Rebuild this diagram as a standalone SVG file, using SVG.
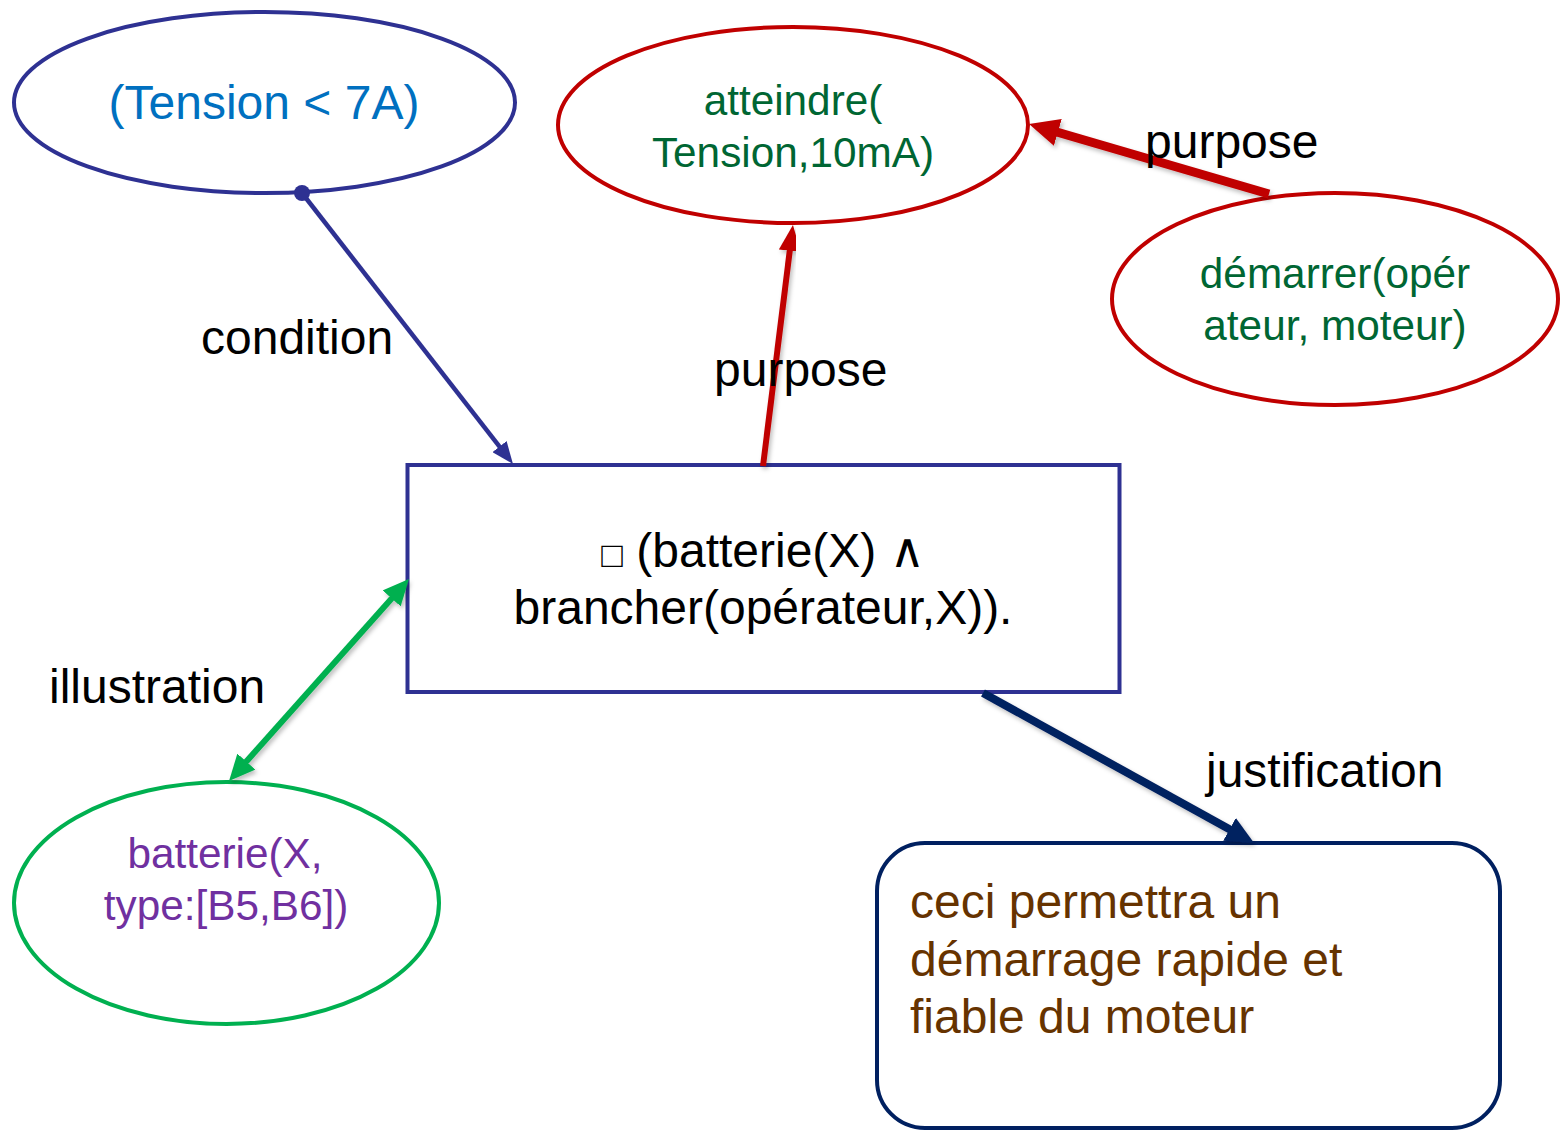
<svg xmlns="http://www.w3.org/2000/svg" width="1560" height="1131" viewBox="0 0 1560 1131">
<style>
  text { font-family: "Liberation Sans", Arial, "DejaVu Sans", sans-serif; }
  .lbl { font-size: 48px; fill: #000000; }
  .big { font-size: 48px; }
  .small { font-size: 42.3px; text-anchor: middle; }
  .node { fill: #ffffff; stroke-width: 4; }
</style>
<defs>
  <filter id="sh" x="-20%" y="-20%" width="140%" height="140%">
    <feDropShadow dx="2" dy="3" stdDeviation="2" flood-color="#000000" flood-opacity="0.25"/>
  </filter>
  <marker id="m-cond" markerUnits="userSpaceOnUse" markerWidth="22" markerHeight="18" refX="2" refY="9" orient="auto">
    <path d="M0,0 L22,9 L0,18 Z" fill="#2E3192"/>
  </marker>
  <marker id="m-red" markerUnits="userSpaceOnUse" markerWidth="26" markerHeight="22" refX="2" refY="11" orient="auto">
    <path d="M0,0 L26,11 L0,22 Z" fill="#C00000"/>
  </marker>
  <marker id="m-red-big" markerUnits="userSpaceOnUse" markerWidth="30" markerHeight="28" refX="2" refY="14" orient="auto">
    <path d="M0,0 L30,14 L0,28 Z" fill="#C00000"/>
  </marker>
  <marker id="m-green" markerUnits="userSpaceOnUse" markerWidth="26" markerHeight="24" refX="2" refY="12" orient="auto-start-reverse">
    <path d="M0,0 L26,12 L0,24 Z" fill="#00B050"/>
  </marker>
  <marker id="m-navy" markerUnits="userSpaceOnUse" markerWidth="28" markerHeight="26" refX="2" refY="13" orient="auto">
    <path d="M0,0 L28,13 L0,26 Z" fill="#002060"/>
  </marker>
</defs>
<rect width="1560" height="1131" fill="#ffffff"/>

<g id="n-tension">
  <ellipse class="node" cx="264.5" cy="102.5" rx="250.5" ry="90.5" stroke="#2E3192"/>
  <text class="big" x="264" y="119" text-anchor="middle" fill="#0070C0">(Tension &lt; 7A)</text>
</g>

<g id="n-atteindre">
  <ellipse class="node" cx="793" cy="125" rx="235" ry="98" stroke="#C00000"/>
  <text class="small" x="793" y="115" fill="#006633">atteindre(</text>
  <text class="small" x="793" y="167" fill="#006633">Tension,10mA)</text>
</g>

<g id="n-demarrer">
  <ellipse class="node" cx="1335" cy="299" rx="223" ry="106" stroke="#C00000"/>
  <text class="small" x="1335" y="288" fill="#006633">démarrer(opér</text>
  <text class="small" x="1335" y="340" fill="#006633">ateur, moteur)</text>
</g>

<g id="n-main">
  <rect class="node" x="407.5" y="465" width="712" height="227" stroke="#2E3192"/>
  <text class="big" x="763" y="567" text-anchor="middle" fill="#000000"><tspan font-size="36">□</tspan> (batterie(X) ∧</text>
  <text class="big" x="763" y="624" text-anchor="middle" fill="#000000">brancher(opérateur,X)).</text>
</g>

<g id="n-batterie">
  <ellipse class="node" cx="226.5" cy="903" rx="212.5" ry="121" stroke="#00B050"/>
  <text class="small" x="225" y="868" fill="#7030A0">batterie(X,</text>
  <text class="small" x="226" y="920" fill="#7030A0">type:[B5,B6])</text>
</g>

<g id="n-justif">
  <rect class="node" x="877" y="843" width="623" height="285" rx="48" ry="48" stroke="#002060"/>
  <text class="big" x="910" y="918" fill="#663300">ceci permettra un</text>
  <text class="big" x="910" y="976" fill="#663300">démarrage rapide et</text>
  <text class="big" x="910" y="1033" fill="#663300">fiable du moteur</text>
</g>

<g id="connectors">
  <g id="e-condition">
    <line x1="302" y1="193" x2="500.7" y2="448.2" stroke="#2E3192" stroke-width="4.5" marker-end="url(#m-cond)"/>
    <circle cx="302" cy="193" r="8" fill="#2E3192"/>
    <text class="lbl" x="201" y="354">condition</text>
  </g>
  <g id="e-purpose1">
    <line x1="763" y1="466" x2="790" y2="248.8" stroke="#C00000" stroke-width="6" marker-end="url(#m-red)" filter="url(#sh)"/>
    <text class="lbl" x="714" y="386">purpose</text>
  </g>
  <g id="e-purpose2">
    <line x1="1269" y1="194" x2="1055.9" y2="131.8" stroke="#C00000" stroke-width="9" marker-end="url(#m-red-big)" filter="url(#sh)"/>
    <text class="lbl" x="1145" y="158">purpose</text>
  </g>
  <g id="e-illustration">
    <line x1="393" y1="596.9" x2="245" y2="763.1" stroke="#00B050" stroke-width="6" marker-start="url(#m-green)" marker-end="url(#m-green)" filter="url(#sh)"/>
    <text class="lbl" x="49" y="703">illustration</text>
  </g>
  <g id="e-justification">
    <line x1="983" y1="693" x2="1231.3" y2="830.3" stroke="#002060" stroke-width="8" marker-end="url(#m-navy)" filter="url(#sh)"/>
    <text class="lbl" x="1206" y="787">justification</text>
  </g>
</g>
</svg>
